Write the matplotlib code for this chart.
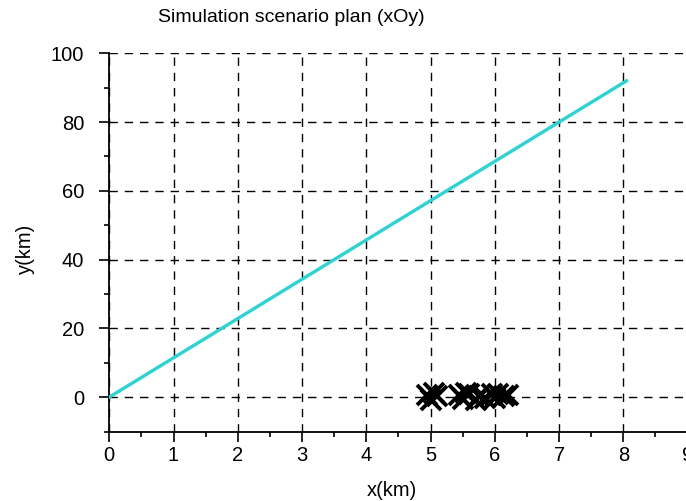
import matplotlib

matplotlib.use("Agg")
import matplotlib.pyplot as plt
from matplotlib.ticker import MultipleLocator

plt.rcParams["font.family"] = ["Liberation Sans", "DejaVu Sans"]

# trajectory of the moving target (straight line)
traj_x = [0.0, 8.05]
traj_y = [0.0, 92.0]

# sensor / ground positions near y = 0
pts_x = [4.95, 5.0, 5.05, 5.1, 5.45, 5.5, 5.55, 5.6, 5.7, 5.75, 5.85, 5.95, 6.0, 6.05, 6.15, 6.2]
pts_y = [0.5, -0.8, 1.2, 0.2, 0.6, -0.5, 1.3, 0.9, -0.9, 0.3, -0.2, 0.8, -0.4, 1.0, 0.2, 0.6]

fig = plt.figure(figsize=(6.86, 5.01), dpi=100)
ax = fig.add_axes([109.3 / 686, 69.5 / 501, 578.3 / 686, 378.2 / 501])

ax.plot(traj_x, traj_y, color="#2ad4d4", lw=2.4, zorder=3)
ax.plot(pts_x, pts_y, ls="none", marker="x", ms=14, mew=2.8, color="black", zorder=4)

ax.set_xlim(0, 9)
ax.set_ylim(-10, 100)
ax.xaxis.set_major_locator(MultipleLocator(1))
ax.xaxis.set_minor_locator(MultipleLocator(0.5))
ax.yaxis.set_major_locator(MultipleLocator(20))
ax.yaxis.set_minor_locator(MultipleLocator(10))

ax.grid(True, which="major", color="black", ls=(0, (6, 5)), lw=1.0)
ax.tick_params(which="major", direction="out", length=7.5, width=1.2, labelsize=14.5, pad=3)
ax.tick_params(which="minor", direction="out", length=3.5, width=1.2)
ax.tick_params(axis="y", which="major", pad=10.5)

for side in ("top", "right"):
    ax.spines[side].set_visible(False)
for side in ("left", "bottom"):
    ax.spines[side].set_linewidth(1.3)
ax.spines["bottom"].set_clip_on(False)

fig.text(291 / 686, 1 - 18 / 501, "Simulation scenario plan (xOy)", ha="center", va="center", fontsize=14)
fig.text(392 / 686, 1 - 490 / 501, "x(km)", ha="center", va="center", fontsize=14.5)
fig.text(25 / 686, 1 - 249 / 501, "y(km)", ha="center", va="center", rotation=90, fontsize=14.5)

fig.savefig("out.png", dpi=100)
plt.close(fig)
